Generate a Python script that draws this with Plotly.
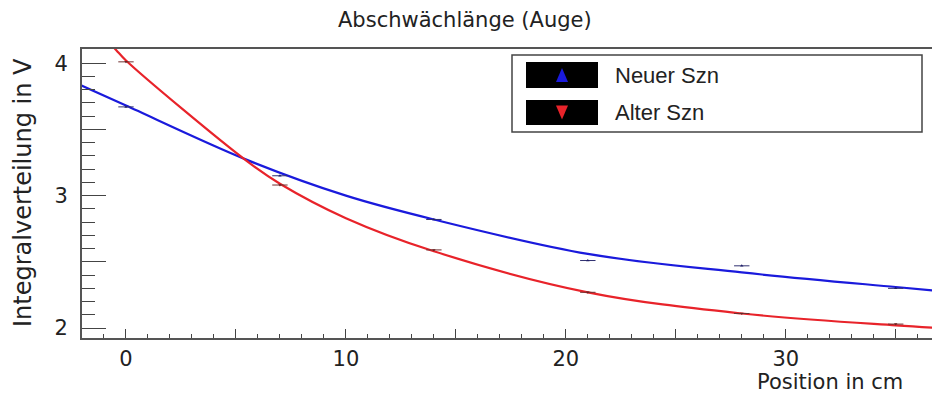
import plotly.graph_objects as go

# Measurement positions (cm) and integrated signal (V)
positions = [0, 7, 14, 21, 28, 35]
neuer_szn = [3.67, 3.15, 2.82, 2.51, 2.47, 2.30]
alter_szn = [4.01, 3.08, 2.59, 2.27, 2.11, 2.03]
pos_err = [0.35, 0.35, 0.35, 0.35, 0.35, 0.35]

# Attenuation fit curves, sampled along the fitted function
neuer_fit_x = [-2.5, -2, 0, 5.5, 10, 14, 21, 28, 35, 37]
neuer_fit_y = [3.87, 3.83, 3.68, 3.27, 3.00, 2.82, 2.56, 2.42, 2.31, 2.28]
alter_fit_x = [-1, -0.45, 0, 5.5, 7, 10, 14, 21, 28, 35, 37]
alter_fit_y = [4.20, 4.10, 4.02, 3.26, 3.09, 2.83, 2.58, 2.27, 2.11, 2.02, 2.00]

x_range = [-2.0, 36.65]
y_range = [1.925, 4.107]
y_major = [2.0, 2.5, 3.0, 3.5, 4.0]
y_labels = ["2", "", "3", "", "4"]
x_major = [0, 5, 10, 15, 20, 25, 30, 35]
x_labels = ["0", "", "10", "", "20", "", "30", ""]

W, H = 932, 396
ML, MR, MT, MB = 82, 0, 49, 58
PW, PH = W - ML - MR, H - MT - MB


def px(x):
    return (x - ML) / PW


def py(y):
    return (H - MB - y) / PH


BLUE = "#1a1adc"
RED = "#e8232a"
FONT = "DejaVu Sans"
TXT = "#222"

fig = go.Figure()

fig.add_trace(go.Scatter(
    x=neuer_fit_x, y=neuer_fit_y, mode="lines", line_shape="spline",
    line=dict(color=BLUE, width=2.2), showlegend=False, hoverinfo="skip"))
fig.add_trace(go.Scatter(
    x=alter_fit_x, y=alter_fit_y, mode="lines", line_shape="spline",
    line=dict(color=RED, width=2.2), showlegend=False, hoverinfo="skip"))

fig.add_trace(go.Scatter(
    x=positions, y=neuer_szn, mode="markers", name="Neuer Szn",
    marker=dict(symbol="triangle-up", size=3, color="#20206a"),
    error_x=dict(type="data", array=pos_err, color="#303070", thickness=1, width=0),
    showlegend=False))
fig.add_trace(go.Scatter(
    x=positions, y=alter_szn, mode="markers", name="Alter Szn",
    marker=dict(symbol="triangle-down", size=3, color="#6a2020"),
    error_x=dict(type="data", array=pos_err, color="#703030", thickness=1, width=0),
    showlegend=False))

shapes = []
# legend frame
shapes.append(dict(type="rect", xref="paper", yref="paper",
                   x0=px(512), x1=px(922), y0=py(132), y1=py(55),
                   line=dict(color="#444", width=1.5), fillcolor="white"))
# legend key boxes with symbols
for top, bottom, col, up in [(62, 88, BLUE, True), (100, 125, RED, False)]:
    shapes.append(dict(type="rect", xref="paper", yref="paper",
                       x0=px(526), x1=px(598), y0=py(bottom), y1=py(top),
                       line=dict(width=0), fillcolor="black"))
    cy = (top + bottom) / 2
    if up:
        pts = [(556, cy + 7), (568, cy + 7), (562, cy - 7)]
    else:
        pts = [(556, cy - 7), (568, cy - 7), (562, cy + 7)]
    path = "M {} {} L {} {} L {} {} Z".format(
        px(pts[0][0]), py(pts[0][1]), px(pts[1][0]), py(pts[1][1]),
        px(pts[2][0]), py(pts[2][1]))
    shapes.append(dict(type="path", xref="paper", yref="paper", path=path,
                       line=dict(width=0), fillcolor=col))

annotations = [
    dict(text="Abschwächlänge (Auge)", xref="paper", yref="paper",
         x=px(465), y=py(20), showarrow=False, xanchor="center", yanchor="middle",
         font=dict(family=FONT, size=21, color=TXT)),
    dict(text="Integralverteilung in V", xref="paper", yref="paper",
         x=px(23), y=py(193), showarrow=False, textangle=-90,
         xanchor="center", yanchor="middle",
         font=dict(family=FONT, size=24, color=TXT)),
    dict(text="Position in cm", xref="paper", yref="paper",
         x=px(905), y=py(382), showarrow=False, xanchor="right", yanchor="middle",
         font=dict(family=FONT, size=21, color=TXT)),
    dict(text="Neuer Szn", xref="paper", yref="paper",
         x=px(613), y=py(75), showarrow=False, xanchor="left", yanchor="middle",
         font=dict(family="Liberation Sans", size=22, color=TXT)),
    dict(text="Alter Szn", xref="paper", yref="paper",
         x=px(613), y=py(113), showarrow=False, xanchor="left", yanchor="middle",
         font=dict(family="Liberation Sans", size=22, color=TXT)),
]

fig.update_layout(
    width=W, height=H,
    margin=dict(l=ML, r=MR, t=MT, b=MB, pad=0),
    paper_bgcolor="white", plot_bgcolor="white",
    shapes=shapes, annotations=annotations,
    font=dict(family=FONT, size=21, color=TXT),
    showlegend=False,
)

fig.update_xaxes(
    range=x_range, showgrid=False, zeroline=False,
    showline=True, linecolor="#555", linewidth=2, mirror=True,
    ticks="inside", tickvals=x_major, ticktext=x_labels,
    ticklen=9, tickwidth=1, tickcolor="#444",
    minor=dict(dtick=1, ticks="inside", ticklen=4.5, tickwidth=1, tickcolor="#444"),
    ticklabelstandoff=1,
    tickfont=dict(family=FONT, size=21, color=TXT),
)
fig.update_yaxes(
    range=y_range, showgrid=False, zeroline=False,
    showline=True, linecolor="#555", linewidth=2, mirror=False,
    ticks="inside", tickvals=y_major, ticktext=y_labels,
    ticklen=24, tickwidth=1, tickcolor="#444",
    minor=dict(dtick=0.1, ticks="inside", ticklen=13, tickwidth=1, tickcolor="#444"),
    ticklabelstandoff=8,
    tickfont=dict(family=FONT, size=21, color=TXT),
)

fig.write_html("out.html")
